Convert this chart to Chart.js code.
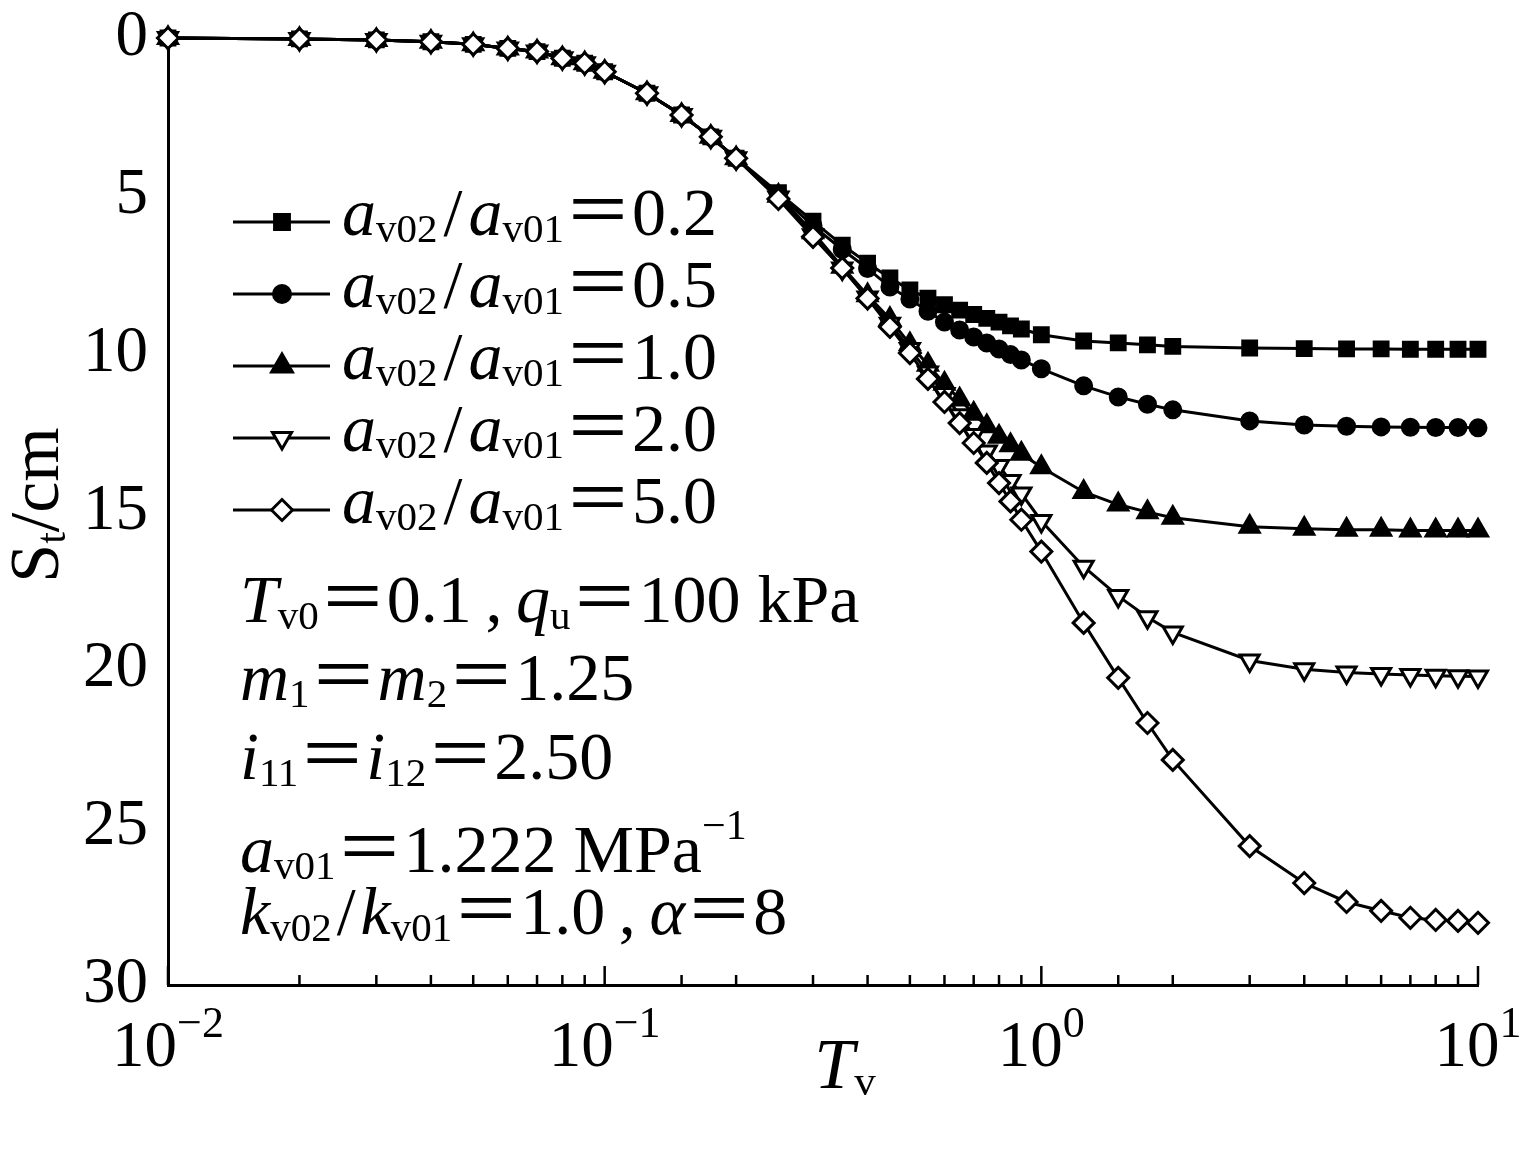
<!DOCTYPE html>
<html>
<head>
<meta charset="utf-8">
<title>St - Tv</title>
<script src="https://cdn.jsdelivr.net/npm/chart.js@4.4.1/dist/chart.umd.min.js"></script>
<style>
  html, body { margin: 0; padding: 0; background: #fff; }
  canvas { display: block; }
</style>
</head>
<body>
<canvas id="settleChart" width="1537" height="1149"></canvas>
<script>
// time factor Tv (x, log axis)
var tv = [0.01, 0.02, 0.03, 0.04, 0.05, 0.06, 0.07, 0.08, 0.09, 0.1,
  0.125, 0.15, 0.175, 0.2, 0.25, 0.3, 0.35, 0.4, 0.45, 0.5,
  0.55, 0.6, 0.65, 0.7, 0.75, 0.8, 0.85, 0.9, 1.0, 1.25,
  1.5, 1.75, 2, 3, 4, 5, 6, 7, 8, 9, 10];

// settlement St (cm) for each av02/av01 ratio
var st02 = [0, 0.03, 0.06, 0.12, 0.2, 0.33, 0.43, 0.64, 0.8, 1.07,
  1.75, 2.44, 3.13, 3.81, 4.9, 5.8, 6.56, 7.13, 7.6, 7.98,
  8.24, 8.45, 8.62, 8.76, 8.88, 9.0, 9.12, 9.22, 9.4, 9.6,
  9.66, 9.72, 9.77, 9.82, 9.84, 9.85, 9.85, 9.86, 9.86, 9.86, 9.86];
var st05 = [0, 0.03, 0.06, 0.12, 0.2, 0.33, 0.43, 0.64, 0.8, 1.07,
  1.75, 2.44, 3.13, 3.81, 4.95, 5.95, 6.7, 7.3, 7.89, 8.27,
  8.66, 9.0, 9.25, 9.47, 9.66, 9.85, 10.03, 10.2, 10.48, 11.02,
  11.37, 11.6, 11.78, 12.13, 12.26, 12.3, 12.32, 12.33, 12.34, 12.34, 12.35];
var st10 = [0, 0.03, 0.06, 0.12, 0.2, 0.33, 0.43, 0.64, 0.8, 1.07,
  1.75, 2.44, 3.13, 3.81, 5.0, 6.15, 7.25, 8.15, 8.9, 9.7,
  10.35, 10.95, 11.45, 11.9, 12.3, 12.63, 12.9, 13.17, 13.6, 14.38,
  14.78, 15.02, 15.2, 15.48, 15.55, 15.58, 15.58, 15.6, 15.6, 15.6, 15.6];
var st20 = [0, 0.03, 0.06, 0.12, 0.2, 0.33, 0.43, 0.64, 0.8, 1.07,
  1.75, 2.44, 3.13, 3.81, 5.05, 6.25, 7.3, 8.22, 9.05, 9.85,
  10.6, 11.28, 11.95, 12.58, 13.1, 13.56, 14.03, 14.43, 15.3, 16.75,
  17.68, 18.35, 18.83, 19.72, 20.0, 20.1, 20.15, 20.18, 20.2, 20.22, 20.23];
var st50 = [0, 0.03, 0.06, 0.12, 0.2, 0.33, 0.43, 0.64, 0.8, 1.07,
  1.75, 2.44, 3.13, 3.81, 5.1, 6.3, 7.29, 8.25, 9.15, 9.98,
  10.8, 11.53, 12.2, 12.83, 13.46, 14.1, 14.68, 15.26, 16.27, 18.53,
  20.27, 21.7, 22.87, 25.6, 26.77, 27.37, 27.65, 27.87, 27.94, 27.97, 28.03];

var ratioLabels = ['0.2', '0.5', '1.0', '2.0', '5.0'];
var xTickValues = [0.01, 0.1, 1, 10];
var xTickExps = ['\u22122', '\u22121', '0', '1'];
var yTickStep = 5;

var SERIF = '"Liberation Serif", "Noto Sans CJK SC", serif';
var TICK_SIZE = 65;
var TEXT_SIZE = 68;

var markers = [
  { style: 'rect', radius: 10.5, rotation: 0, fill: '#000' },
  { style: 'circle', radius: 8.5, rotation: 0, fill: '#000' },
  { style: 'triangle', radius: 12, rotation: 0, fill: '#000' },
  { style: 'triangle', radius: 11, rotation: 180, fill: '#fff' },
  { style: 'rectRot', radius: 10.5, rotation: 0, fill: '#fff' }
];
var series = [st02, st05, st10, st20, st50];

// rich text: runs of [text, mode, pad] with mode 'i' italic, '_' sub, '^' sup;
// pad = extra px on both sides of the run
function runFont(r, base, supScale) {
  var size = base;
  if (r[1] === '_') size = Math.round(base * 0.6);
  if (r[1] === '^') size = Math.round(base * (supScale || 0.6));
  return (r[1] === 'i' ? 'italic ' : '') + size + 'px ' + SERIF;
}
function richWidth(ctx, runs, base, supScale) {
  var w = 0;
  runs.forEach(function(r) {
    ctx.font = runFont(r, base, supScale);
    w += ctx.measureText(r[0]).width + 2 * (r[2] || 0);
  });
  return w;
}
function drawRich(ctx, runs, x, y, base, align, supScale, supRise) {
  if (align === 'center') x -= richWidth(ctx, runs, base, supScale) / 2;
  ctx.textAlign = 'left';
  ctx.textBaseline = 'alphabetic';
  runs.forEach(function(r) {
    var pad = r[2] || 0;
    ctx.font = runFont(r, base, supScale);
    var dy = r[1] === '_' ? base * 0.1 : (r[1] === '^' ? -base * (supRise || 0.42) : 0);
    ctx.fillText(r[0], x + pad, y + dy);
    x += ctx.measureText(r[0]).width + 2 * pad;
  });
}

var notes = [
  { y: 622, runs: [['T', 'i'], ['v0', '_'], ['\uFF1D0.1\u2009,\u2009'], ['q', 'i'], ['u', '_'], ['\uFF1D100 kPa']] },
  { y: 700, runs: [['m', 'i'], ['1', '_'], ['\uFF1D'], ['m', 'i'], ['2', '_'], ['\uFF1D1.25']] },
  { y: 779, runs: [['i', 'i'], ['11', '_'], ['\uFF1D'], ['i', 'i'], ['12', '_'], ['\uFF1D2.50']] },
  { y: 872, runs: [['a', 'i'], ['v01', '_'], ['\uFF1D1.222 MPa'], ['\u22121', '^']] },
  { y: 934, runs: [['k', 'i'], ['v02', '_'], ['/', '', 5], ['k', 'i'], ['v01', '_'], ['\uFF1D1.0\u2009,\u2009'], ['\u03B1', 'i'], ['\uFF1D8']] }
];

var overlay = {
  id: 'overlay',
  afterDraw: function(chart) {
    var ctx = chart.ctx;
    var xs = chart.scales.x;
    var area = chart.chartArea;
    ctx.save();
    ctx.fillStyle = '#000';
    ctx.strokeStyle = '#000';

    // inward ticks on the Tv axis
    ctx.lineWidth = 2.5;
    xs.ticks.forEach(function(t) {
      var px = xs.getPixelForValue(t.value);
      var lg = Math.log10(t.value);
      var major = Math.abs(lg - Math.round(lg)) < 1e-6;
      ctx.beginPath();
      ctx.moveTo(px, area.bottom);
      ctx.lineTo(px, area.bottom - (major ? 19 : 10));
      ctx.stroke();
    });

    // 10^n labels
    xTickValues.forEach(function(v, i) {
      drawRich(ctx, [['10'], [xTickExps[i], '^']], xs.getPixelForValue(v), 1066, TICK_SIZE, 'center', 0.68, 0.45);
    });

    // axis titles
    drawRich(ctx, [['T', 'i'], ['v', '_']], 845, 1088, 72, 'center');
    ctx.save();
    ctx.translate(58, 505);
    ctx.rotate(-Math.PI / 2);
    drawRich(ctx, [['S'], ['t', '_'], ['/cm']], 0, 0, 70, 'center');
    ctx.restore();

    // legend
    ratioLabels.forEach(function(lab, i) {
      var ly = 222 + 72 * i;
      ctx.lineWidth = 3;
      ctx.beginPath();
      ctx.moveTo(233, ly);
      ctx.lineTo(330, ly);
      ctx.stroke();
      ctx.fillStyle = markers[i].fill;
      Chart.helpers.drawPoint(ctx, {
        pointStyle: markers[i].style,
        radius: markers[i].radius,
        rotation: markers[i].rotation,
        borderWidth: 3
      }, 282, ly);
      ctx.fillStyle = '#000';
      drawRich(ctx, [['a', 'i'], ['v02', '_'], ['/', '', 6], ['a', 'i'], ['v01', '_'], ['\uFF1D' + lab]], 342, ly + 13, TEXT_SIZE, 'left');
    });

    // parameter notes
    notes.forEach(function(n) {
      drawRich(ctx, n.runs, 240, n.y, TEXT_SIZE, 'left', 0.62, 0.48);
    });
    ctx.restore();
  }
};

var datasets = series.map(function(s, i) {
  return {
    label: 'av02/av01=' + ratioLabels[i],
    data: tv.map(function(x, k) { return { x: x, y: s[k] }; }),
    borderColor: '#000',
    borderWidth: 3,
    backgroundColor: markers[i].fill,
    pointStyle: markers[i].style,
    pointRadius: markers[i].radius,
    pointRotation: markers[i].rotation,
    pointBackgroundColor: markers[i].fill,
    pointBorderColor: '#000',
    pointBorderWidth: i < 3 ? 2 : 3,
    tension: 0,
    clip: false,
    order: 5 - i
  };
});

new Chart(document.getElementById('settleChart'), {
  type: 'line',
  data: { datasets: datasets },
  options: {
    responsive: false,
    animation: false,
    devicePixelRatio: 1,
    layout: { padding: { top: 38, right: 59, left: 0, bottom: 0 } },
    plugins: { legend: { display: false }, tooltip: { enabled: false } },
    scales: {
      x: {
        type: 'logarithmic',
        min: 0.01,
        max: 10,
        grid: { display: false, drawTicks: false },
        border: { display: true, color: '#000', width: 3 },
        ticks: { display: false },
        afterFit: function(scale) { scale.height = 164; }
      },
      y: {
        type: 'linear',
        reverse: true,
        min: 0,
        max: 30,
        grid: { display: false, drawTicks: false },
        border: { display: true, color: '#000', width: 3 },
        ticks: {
          stepSize: yTickStep,
          color: '#000',
          padding: 20,
          font: { family: SERIF, size: TICK_SIZE }
        },
        afterFit: function(scale) {
          scale.width = 168;
          // keep the plot top at the layout padding, the "0" label may overhang
          scale.paddingTop = 0;
          scale.paddingBottom = 0;
        }
      }
    }
  },
  plugins: [overlay]
});
</script>
</body>
</html>
